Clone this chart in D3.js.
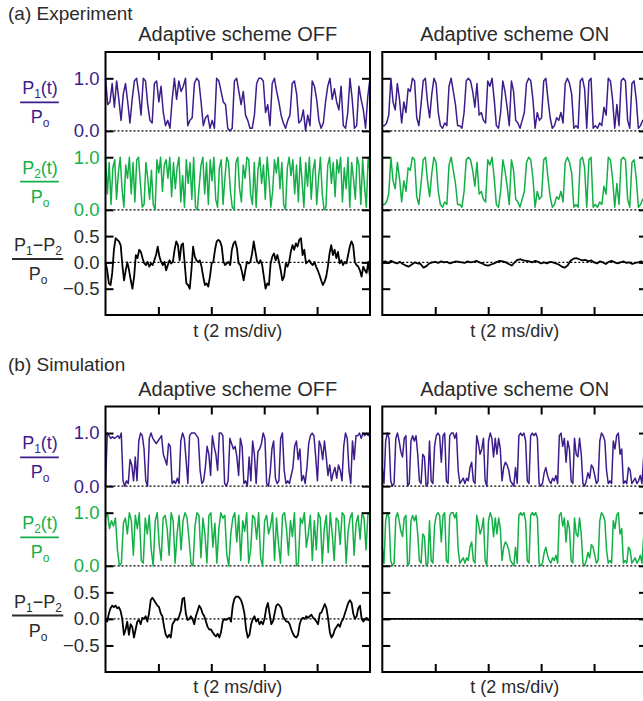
<!DOCTYPE html>
<html><head><meta charset="utf-8">
<script src="https://cdn.jsdelivr.net/npm/d3@7"></script>
<style>
body{margin:0;background:#fff}
svg{display:block}
text{font-family:"Liberation Sans",Arial,Helvetica,sans-serif}
</style>
</head><body>
<svg id="c" width="643" height="701"></svg>
<script>
// ---------- DATA (uniform sampling over 0-10 ms) ----------
const timeDomain = [0, 10];           // ms (5 div x 2 ms/div)
const timeTicks = [2, 4, 6, 8];
const powerTicks = [0, 1];
const diffTicks = [-0.5, 0, 0.5];
const sectionTitles = ["(a) Experiment", "(b) Simulation"];
const panelTitles = ["Adaptive scheme OFF", "Adaptive scheme ON"];
const xLabel = "t (2 ms/div)";

// (a) Experiment, adaptive scheme OFF
const expOffP1 = [1.0,0.5,0.55,0.9,0.45,0.95,0.6,0.2,0.7,0.9,0.55,0.15,0.6,0.95,1.0,0.7,0.3,1.0,0.95,0.5,0.2,0.15,0.9,0.95,0.55,0.85,0.35,0.1,0.2,0.05,0.6,1.0,0.6,0.95,0.75,0.85,1.0,0.1,0.2,0.25,0.9,1.0,0.95,0.55,0.1,0.25,0.3,0.05,0.2,0.05,1.0,0.95,0.75,0.55,0.5,0.05,0.0,0.05,0.95,1.0,0.75,0.5,0.75,0.3,0.2,0.05,0.05,0.3,0.9,1.0,1.0,0.95,0.35,0.5,0.1,0.9,1.0,0.75,0.55,0.3,0.15,0.05,0.2,0.3,0.9,0.95,0.7,0.15,0.2,0.4,0.0,0.3,0.1,0.95,0.85,0.6,0.2,0.05,0.15,0.55,0.85,1.0,0.6,0.8,0.55,0.4,0.85,0.1,0.05,0.35,1.0,0.6,0.05,0.1,0.85,0.6,0.4,0.05,0.65,1.0];
const expOffP2 = [1.0,0.3,0.9,0.1,0.8,0.95,0.2,0.7,1.0,0.4,0.05,0.85,0.6,1.0,0.3,0.9,0.15,0.95,1.0,0.5,0.05,0.1,0.9,0.6,0.2,0.75,0.1,0.0,0.95,0.7,1.0,0.35,0.85,0.95,0.6,1.0,0.25,0.9,0.4,0.8,1.0,0.15,0.65,0.05,0.95,0.5,0.9,0.2,1.0,0.05,0.0,0.45,0.85,1.0,0.3,0.9,0.1,0.95,0.55,1.0,0.2,0.05,0.8,0.95,0.1,0.6,1.0,0.9,0.35,0.05,0.0,0.9,1.0,0.4,0.15,0.85,0.6,1.0,0.95,0.3,0.1,0.9,0.05,0.75,1.0,0.5,0.85,0.2,1.0,0.6,0.05,0.35,0.95,0.7,1.0,0.4,0.9,0.1,0.0,0.8,1.0,0.65,0.95,0.3,0.85,0.15,1.0,0.55,0.05,0.9,0.45,1.0,0.2,0.75,0.95,0.1,0.6,1.0,0.3,0.0,0.05,0.85,1.0,0.5,0.9,0.25,0.95,0.7,1.0,0.15,0.8,0.4,1.0,0.05,0.9,0.6,0.2,1.0,0.85,0.1,0.95,0.45,0.05,1.0,0.7];
const expOffDiff = [0.0,-0.15,-0.4,-0.43,-0.2,0.24,0.46,0.43,0.4,0.33,-0.05,-0.34,-0.15,0.0,-0.15,-0.34,-0.5,-0.27,0.14,0.08,0.24,0.2,0.08,-0.02,-0.05,0.01,-0.08,-0.02,-0.05,0.04,0.14,0.3,0.11,0.01,-0.05,0.01,-0.15,-0.05,0.04,-0.02,0.01,0.24,0.4,0.33,0.04,0.33,0.36,-0.02,-0.4,-0.43,-0.5,-0.15,0.3,0.11,0.04,0.01,0.04,-0.08,-0.27,-0.43,-0.4,-0.46,-0.27,-0.02,0.01,0.24,0.4,0.43,0.4,0.3,0.01,-0.05,-0.02,0.01,-0.05,0.24,0.36,0.4,0.27,-0.02,-0.05,-0.18,-0.34,-0.15,0.01,-0.02,0.01,0.17,0.4,0.2,0.01,-0.02,0.04,-0.05,-0.27,-0.5,-0.4,-0.43,-0.02,0.11,0.17,0.04,0.14,0.01,-0.15,-0.34,-0.27,-0.02,-0.08,0.01,0.2,0.33,0.24,0.36,0.3,0.43,0.46,0.14,0.24,-0.02,0.01,0.04,-0.02,-0.05,0.01,-0.08,-0.15,-0.24,-0.34,-0.43,-0.37,-0.27,-0.08,0.17,0.33,0.14,0.24,0.08,0.2,-0.02,0.04,-0.05,0.01,-0.02,0.14,0.3,0.4,0.33,0.01,-0.05,-0.08,-0.15,-0.27,-0.08,-0.15,-0.2,0.01,-0.27];

// (a) Experiment, adaptive scheme ON (P2 follows P1)
const expOnP1 = [0.1,0.1,0.15,0.3,1.0,0.55,0.4,0.9,0.6,0.15,0.55,0.35,0.8,0.75,1.0,0.95,0.25,0.1,0.5,0.95,1.0,0.55,0.25,0.7,1.0,0.9,0.35,0.1,0.05,0.15,0.1,0.85,1.0,0.75,0.5,0.1,0.1,0.05,0.35,0.95,1.0,0.95,0.75,0.45,0.9,0.3,0.35,0.2,0.15,0.95,0.85,1.0,0.6,0.1,0.05,0.35,0.95,0.75,0.45,0.1,0.95,0.75,0.2,0.15,0.05,0.2,0.35,0.9,1.0,0.95,0.6,0.05,0.35,0.2,0.25,0.95,1.0,0.6,0.25,0.05,0.1,0.25,0.2,0.35,0.15,0.9,1.0,0.9,0.7,0.05,0.1,0.05,0.95,1.0,0.8,0.05,0.95,1.0,0.05,0.1,0.05,0.15,0.1,0.45,0.3,1.0,0.95,0.6,0.05,0.5,0.1,0.95,1.0,0.95,0.2,0.05,0.9,0.95,0.6,0.05,0.1,0.2,0.15,0.3];
const expOnP2 = expOnP1;
const expOnDiff = [0.0,0.02,-0.01,0.03,0.0,-0.02,0.01,-0.03,-0.06,-0.08,-0.04,0.0,-0.02,-0.03,-0.1,-0.07,-0.02,0.0,0.01,-0.01,0.02,0.0,0.01,-0.02,0.0,0.02,0.01,0.0,-0.01,0.02,0.0,0.01,0.03,0.0,-0.02,-0.05,-0.06,-0.04,-0.02,0.01,0.03,0.02,0.0,-0.03,-0.06,0.0,0.05,0.06,0.04,0.03,0.02,0.0,0.03,0.01,-0.02,0.0,-0.02,0.01,0.0,-0.02,-0.04,-0.08,-0.1,-0.06,0.03,0.07,0.08,0.06,0.04,0.05,0.02,0.04,0.0,-0.02,0.02,0.0,-0.03,0.01,0.03,0.0,-0.02,0.0,0.02,-0.01,0.0,-0.03,-0.01,0.0,0.02,-0.02,0.0];

// (b) Simulation, adaptive scheme OFF
const simOffP1 = [0.0,1.0,0.95,0.9,0.93,0.9,0.92,0.95,0.9,1.0,0.1,0.0,0.1,0.05,0.5,0.4,0.1,0.55,0.1,0.85,1.0,0.95,0.7,0.1,0.0,0.9,1.0,0.9,0.85,0.8,0.85,0.9,0.95,0.6,0.5,0.4,0.8,0.75,0.05,0.1,0.05,0.15,0.05,0.85,1.0,0.9,0.5,0.05,0.95,1.0,1.0,1.0,0.95,0.9,0.3,0.05,0.1,0.35,0.75,0.6,0.2,0.95,0.75,0.6,0.3,1.0,1.0,0.95,0.05,0.0,0.1,0.9,0.8,0.7,0.75,0.55,0.2,0.9,0.75,0.05,0.1,0.0,0.55,0.1,0.85,0.6,0.05,0.65,0.7,0.8,1.0,0.9,0.05,0.0,0.25,0.7,0.85,0.15,0.05,0.1,0.9,1.0,0.3,0.05,0.1,0.05,0.2,0.35,0.75,0.85,0.5,0.7,0.1,0.2,0.05,0.35,0.8,0.95,1.0,0.95,0.55,0.1,0.85,0.75,0.5,0.85,0.55,0.2,0.4,0.1,0.25,0.35,0.15,0.4,0.3,0.1,0.75,1.0,0.9,0.3,0.05,0.85,0.5,0.95,0.95,1.0,0.9,1.0,0.95,1.0,0.95,1.0];
const simOffP2 = [0.9,1.0,0.7,0.85,0.75,0.9,0.3,0.0,0.05,0.8,0.9,0.6,1.0,0.85,0.2,0.95,0.7,1.0,0.1,0.05,0.9,0.6,0.95,0.3,0.0,0.85,1.0,0.4,0.1,0.9,0.95,0.7,0.2,1.0,0.85,0.05,0.6,0.95,0.3,0.85,1.0,0.9,0.5,0.05,0.0,0.75,1.0,0.95,0.15,0.9,0.6,0.05,0.95,1.0,0.35,0.8,0.05,0.7,1.0,0.9,0.95,0.2,0.0,0.6,0.9,1.0,0.45,0.95,0.1,0.85,0.65,1.0,0.05,0.3,0.95,0.9,0.5,1.0,0.15,0.0,0.85,0.95,0.6,0.75,1.0,0.1,0.9,0.4,0.05,0.95,1.0,0.7,0.2,0.85,0.55,1.0,0.0,0.05,0.9,0.8,1.0,0.35,0.6,0.95,0.1,0.85,0.3,1.0,0.9,0.05,0.7,0.95,0.25,1.0,0.6,0.1,0.9,0.85,0.4,1.0,0.95,0.05,0.65,0.9,1.0,0.2,0.8,0.95,0.5,1.0,0.9,0.3,1.0,0.95];
const simOffDiff = [0.0,-0.05,0.1,0.2,0.25,0.22,0.25,0.2,0.22,0.15,0.0,-0.3,-0.2,-0.05,-0.3,-0.1,-0.15,-0.35,-0.2,-0.05,-0.02,-0.1,0.02,0.0,0.05,-0.05,0.1,0.35,0.4,0.35,0.3,0.25,0.22,0.1,0.05,-0.15,-0.3,-0.35,-0.3,-0.35,-0.1,-0.05,0.0,-0.02,0.05,0.15,0.38,0.4,0.1,-0.02,0.0,0.05,0.0,-0.1,0.05,0.15,0.25,0.2,0.1,0.05,-0.05,-0.15,-0.2,-0.2,-0.25,-0.3,-0.33,-0.28,-0.35,-0.25,-0.05,0.0,-0.02,0.0,0.02,-0.05,0.25,0.38,0.42,0.42,0.4,0.35,0.25,0.1,-0.2,-0.35,-0.3,-0.1,0.0,0.05,-0.05,0.0,-0.1,-0.05,-0.1,0.0,0.2,0.3,0.1,-0.1,-0.05,0.1,0.25,0.28,0.25,0.2,0.05,0.0,-0.05,-0.05,-0.1,-0.2,-0.28,-0.33,-0.35,-0.3,-0.1,0.0,0.02,0.0,0.05,0.02,0.05,0.08,0.02,0.0,-0.05,-0.1,0.1,0.12,0.2,0.28,0.2,0.0,-0.25,-0.35,-0.3,-0.2,-0.15,-0.1,-0.15,-0.05,0.0,0.1,0.2,0.3,0.35,0.3,0.1,0.0,0.05,0.2,0.25,0.0,-0.05,0.0,0.02,-0.02,0.0];

// (b) Simulation, adaptive scheme ON (perfect synchronisation)
const simOnP1 = [0.35,0.05,0.85,1.0,0.9,0.1,0.0,0.05,0.9,1.0,0.85,0.65,0.55,0.9,0.95,0.0,0.05,0.85,0.95,0.85,0.95,0.6,0.1,0.05,0.6,0.55,0.0,0.05,0.85,0.1,0.05,0.75,0.95,1.0,0.95,0.45,0.95,1.0,0.1,0.05,0.95,1.0,1.0,0.9,1.0,0.3,0.05,0.1,0.15,0.05,0.15,0.1,0.35,0.45,0.1,0.05,0.95,0.8,0.6,0.7,0.9,0.1,0.0,0.85,1.0,0.9,0.55,0.9,0.6,0.9,0.7,0.1,0.35,0.45,0.4,0.3,0.1,0.05,0.0,0.35,0.05,0.95,1.0,0.95,1.0,0.85,0.1,0.05,0.95,1.0,0.95,1.0,0.9,0.05,0.0,0.05,0.25,0.35,0.2,0.1,0.05,0.15,0.1,0.2,0.05,0.95,1.0,0.75,0.9,0.45,0.85,0.7,0.1,0.05,0.9,0.6,0.55,0.9,0.6,0.05,0.0,0.1,0.25,0.15,0.4,0.35,0.2,0.05,0.1,0.85,1.0,0.95,0.85,0.3,0.05,0.1,0.05,0.85,0.7,0.95,1.0,0.6,0.7,0.05,0.1,0.05,0.35,0.3,0.05,0.1,0.15,0.05,0.1,0.2,0.05,0.55,0.6,0.5];
const simOnP2 = simOnP1;
const simOnDiff = [0,0,0,0,0,0,0,0,0,0,0];

// ---------- DRAWING ----------
const svg = d3.select("#c");
const C_P1 = "#3d1c8c", C_P2 = "#12b046", C_TXT = "#2b2b2b";
const fmt = d3.format(".1f");

const sections = [
  {title: sectionTitles[0], titleY: 19.5, headY: 40.7, xlabY: 336.5, top: 52, unit: 52.6,
   panels: [{p1: expOffP1, p2: expOffP2, d: expOffDiff}, {p1: expOnP1, p2: expOnP2, d: expOnDiff}]},
  {title: sectionTitles[1], titleY: 370.7, headY: 396, xlabY: 693, top: 406.5, unit: 53.1,
   panels: [{p1: simOffP1, p2: simOffP2, d: simOffDiff}, {p1: simOnP1, p2: simOnP2, d: simOnDiff}]}
];
const panelX = [[105.5, 370], [382.3, 647]];

sections.forEach(sec => {
  const T = sec.top, u = sec.unit, B = T + 5 * u;
  const yP1 = d3.scaleLinear().domain([0, 1]).range([T + 1.5 * u, T + 0.5 * u]);
  const yP2 = d3.scaleLinear().domain([0, 1]).range([T + 3 * u, T + 2 * u]);
  const yD = d3.scaleLinear().domain([-0.5, 0.5]).range([T + 4.5 * u, T + 3.5 * u]);
  const rows = [
    {y: yP1, key: "p1", color: C_P1, ticks: powerTicks, zero: 0, w: 1.5},
    {y: yP2, key: "p2", color: C_P2, ticks: powerTicks, zero: 0, w: 1.5},
    {y: yD, key: "d", color: "#000", ticks: diffTicks, zero: 0, w: 1.8}
  ];

  svg.append("text").attr("x", 8).attr("y", sec.titleY)
    .attr("font-size", 19).attr("fill", C_TXT).text(sec.title);

  sec.panels.forEach((pd, pi) => {
    const [x0, x1] = panelX[pi];
    const x = d3.scaleLinear().domain(timeDomain).range([x0, x1]);
    const g = svg.append("g");

    // zero reference lines (dotted)
    rows.forEach(r => {
      g.append("line").attr("x1", x0).attr("x2", x1)
        .attr("y1", r.y(r.zero)).attr("y2", r.y(r.zero))
        .attr("stroke", "#000").attr("stroke-width", 1.2).attr("stroke-dasharray", "2,2");
    });

    // traces
    rows.forEach(r => {
      const vals = pd[r.key];
      const n = vals.length;
      const t = vals.map((v, i) => timeDomain[0] + (timeDomain[1] - timeDomain[0]) * i / (n - 1));
      const line = d3.line().x((v, i) => x(t[i])).y(v => r.y(v));
      g.append("path").attr("d", line(vals)).attr("fill", "none")
        .attr("stroke", r.color).attr("stroke-width", r.w).attr("stroke-linejoin", "round");
    });

    // inward ticks: top / bottom time ticks
    const tickStyle = sel => { sel.select(".domain").remove(); sel.selectAll("line").attr("stroke", "#000").attr("stroke-width", 2); sel.selectAll("text").remove(); };
    g.append("g").attr("transform", `translate(0,${T})`)
      .call(d3.axisBottom(x).tickValues(timeTicks).tickSize(8).tickFormat("")).call(tickStyle);
    g.append("g").attr("transform", `translate(0,${B})`)
      .call(d3.axisTop(x).tickValues(timeTicks).tickSize(8).tickFormat("")).call(tickStyle);
    // left / right value ticks
    rows.forEach(r => {
      g.append("g").attr("transform", `translate(${x0},0)`)
        .call(d3.axisRight(r.y).tickValues(r.ticks).tickSize(8).tickFormat("")).call(tickStyle);
      g.append("g").attr("transform", `translate(${x1},0)`)
        .call(d3.axisLeft(r.y).tickValues(r.ticks).tickSize(8).tickFormat("")).call(tickStyle);
    });

    // frame
    g.append("rect").attr("x", x0).attr("y", T).attr("width", x1 - x0).attr("height", B - T)
      .attr("fill", "none").attr("stroke", "#000").attr("stroke-width", 2);

    // panel heading and x label
    g.append("text").attr("x", (x0 + x1) / 2).attr("y", sec.headY).attr("text-anchor", "middle")
      .attr("font-size", 20).attr("fill", C_TXT).text(panelTitles[pi]);
    g.append("text").attr("x", (x0 + x1) / 2).attr("y", sec.xlabY).attr("text-anchor", "middle")
      .attr("font-size", 18).attr("fill", C_TXT).text(xLabel);

    // tick labels on left panel
    if (pi === 0) {
      rows.forEach(r => {
        const ax = g.append("g").attr("transform", `translate(${x0 - 6},0)`)
          .call(d3.axisLeft(r.y).tickValues(r.ticks).tickSize(0).tickPadding(0).tickFormat(fmt));
        ax.select(".domain").remove();
        ax.selectAll("text").attr("font-size", 18.5).attr("fill", r.color === "#000" ? C_TXT : r.color)
          .attr("font-family", '"Liberation Sans",Arial,sans-serif');
      });
    }
  });

  // row labels (fractions)
  const labels = [
    {y: yP1, color: C_P1, num: [["P", 0], ["1", 1], ["(t)", 0]], cx: 40, off: -2.3},
    {y: yP2, color: C_P2, num: [["P", 0], ["2", 1], ["(t)", 0]], cx: 40, off: -1.8},
    {y: yD, color: C_TXT, num: [["P", 0], ["1", 1], ["\u2212P", 0], ["2", 1]], cx: 38, off: -3.4}
  ];
  labels.forEach(L => {
    const [a, b] = L.y.domain();
    const lineY = L.y((a + b) / 2) + L.off;
    const lg = svg.append("g");
    const num = lg.append("text").attr("x", L.cx).attr("y", lineY - 8).attr("text-anchor", "middle")
      .attr("font-size", 18).attr("fill", L.color);
    L.num.forEach(([s, sub]) => {
      num.append("tspan").text(s).attr("font-size", sub ? 12 : 18).attr("dy", sub ? 4 : (s === L.num[0][0] ? 0 : -4));
    });
    const bb = num.node().getBBox();
    lg.append("line").attr("x1", bb.x - 2).attr("x2", bb.x + bb.width + 1).attr("y1", lineY).attr("y2", lineY)
      .attr("stroke", L.color).attr("stroke-width", 1.8);
    const den = lg.append("text").attr("x", L.cx).attr("y", lineY + 21).attr("text-anchor", "middle")
      .attr("font-size", 18).attr("fill", L.color);
    den.append("tspan").text("P");
    den.append("tspan").text("o").attr("font-size", 12).attr("dy", 4);
  });
});
</script>
</body></html>
